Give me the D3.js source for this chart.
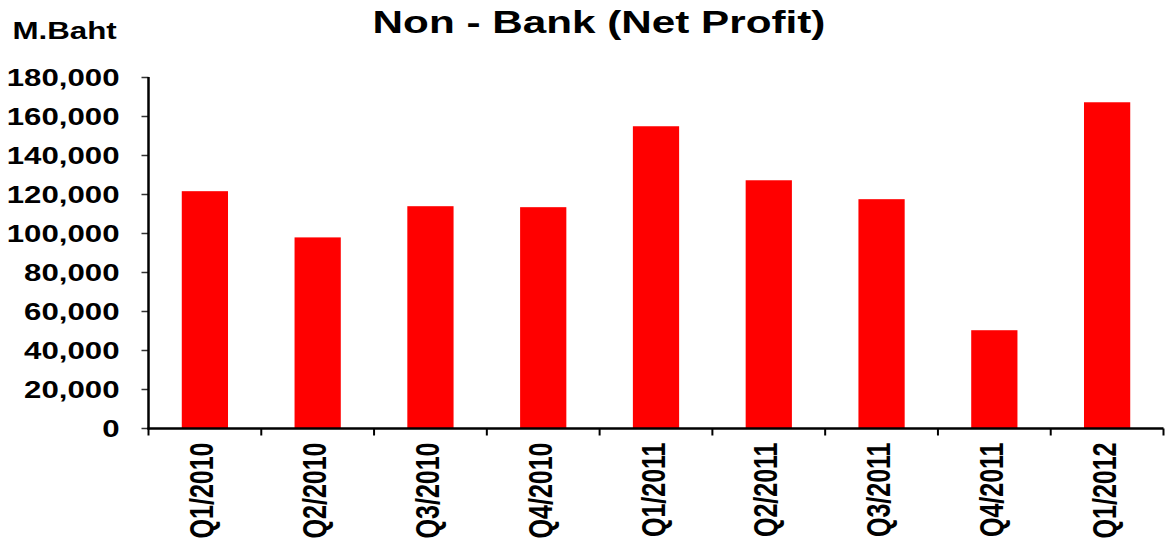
<!DOCTYPE html>
<html>
<head>
<meta charset="utf-8">
<script src="https://cdn.jsdelivr.net/npm/d3@7"></script>
<style>
  body { margin: 0; background: #fff; }
  text { font-family: "Liberation Sans", Arial, sans-serif; font-weight: bold; fill: #000; }
</style>
</head>
<body>
<div id="chart"></div>
<script>
var quarters = ["Q1/2010", "Q2/2010", "Q3/2010", "Q4/2010", "Q1/2011", "Q2/2011", "Q3/2011", "Q4/2011", "Q1/2012"];
var netProfit = [121700, 98000, 114000, 113500, 155000, 127300, 117600, 50400, 167300];
var yTicks = [0, 20000, 40000, 60000, 80000, 100000, 120000, 140000, 160000, 180000];

var width = 1165, height = 545;
var margin = {left: 148.5, right: 1.5, top: 77.5, bottom: 116.5};
var sx = 1.3; // the original image is stretched sideways

var svg = d3.select("#chart").append("svg")
    .attr("width", width)
    .attr("height", height);

var x = d3.scaleBand()
    .domain(quarters)
    .range([margin.left, width - margin.right])
    .paddingInner(0.59)
    .paddingOuter(0.295);

var y = d3.scaleLinear()
    .domain([0, 180000])
    .range([height - margin.bottom, margin.top]);

// bars
svg.append("g").selectAll("rect").data(netProfit).enter()
    .append("rect")
    .attr("x", function(d, i){ return x(quarters[i]); })
    .attr("y", function(d){ return y(d); })
    .attr("width", x.bandwidth())
    .attr("height", function(d){ return y(0) - y(d); })
    .style("fill", "#ff0000");

// y axis
var yAxis = svg.append("g").attr("transform", "translate(" + margin.left + ",0)");
yAxis.selectAll("line.tick").data(yTicks).enter()
    .append("line").attr("class", "tick")
    .attr("x1", -7).attr("x2", 0)
    .attr("y1", function(d){ return y(d); }).attr("y2", function(d){ return y(d); })
    .attr("stroke", "#333").attr("stroke-width", 1.5);
yAxis.append("line")
    .attr("x1", 0).attr("x2", 0)
    .attr("y1", y(180000) - 0.5).attr("y2", y(0) + 1)
    .attr("stroke", "#000").attr("stroke-width", 2.5);
yAxis.selectAll("text").data(yTicks).enter()
    .append("text")
    .attr("transform", function(d){ return "translate(-29," + (y(d) + 8) + ") scale(" + sx + ",1)"; })
    .attr("text-anchor", "end")
    .style("font-size", "24px")
    .text(d3.format(","));

// x axis
var xAxis = svg.append("g").attr("transform", "translate(0," + y(0) + ")");
var edges = quarters.map(function(q){ return x(q) - x.step() * x.paddingInner() / 2; });
edges.push(width - margin.right);
xAxis.selectAll("line.tick").data(edges).enter()
    .append("line").attr("class", "tick")
    .attr("x1", function(d){ return d; }).attr("x2", function(d){ return d; })
    .attr("y1", 0).attr("y2", 7)
    .attr("stroke", "#000").attr("stroke-width", 2);
xAxis.append("line")
    .attr("x1", margin.left - 1).attr("x2", width - margin.right)
    .attr("y1", 0).attr("y2", 0)
    .attr("stroke", "#000").attr("stroke-width", 2.5);
xAxis.selectAll("text").data(quarters).enter()
    .append("text")
    .attr("transform", function(d){ return "translate(" + (x(d) + x.bandwidth() / 2 + 8.5) + ",14) scale(" + sx + ",1) rotate(-90)"; })
    .attr("text-anchor", "end")
    .style("font-size", "25px")
    .text(function(d){ return d; });

// titles
svg.append("text")
    .attr("transform", "translate(599,33) scale(1.32,1)")
    .attr("text-anchor", "middle")
    .style("font-size", "32px")
    .text("Non - Bank (Net Profit)");

svg.append("text")
    .attr("transform", "translate(12.5,39) scale(1.36,1)")
    .style("font-size", "23px")
    .text("M.Baht");
</script>
</body>
</html>
